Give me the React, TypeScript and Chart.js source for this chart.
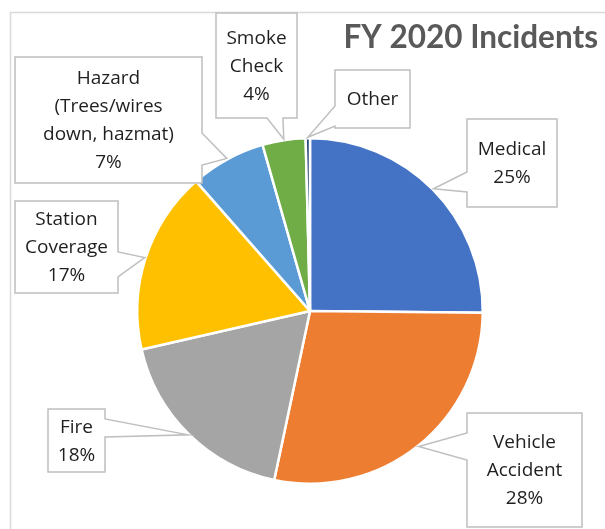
import React, { useEffect, useRef } from "react";
import { Chart, registerables } from "chart.js";

Chart.register(...registerables);

// ---- data ----
const categories = [
  "Medical",
  "Vehicle Accident",
  "Fire",
  "Station Coverage",
  "Hazard (Trees/wires down, hazmat)",
  "Smoke Check",
  "Other",
];
const labelLines = [
  ["Medical"],
  ["Vehicle", "Accident"],
  ["Fire"],
  ["Station", "Coverage"],
  ["Hazard", "(Trees/wires", "down, hazmat)"],
  ["Smoke", "Check"],
  ["Other"],
];
const values = [25, 28, 18, 17, 7, 4, 0.4];
const showPercent = [true, true, true, true, true, true, false];
const colors = ["#4472C4", "#ED7D31", "#A5A5A5", "#FFC000", "#5B9BD5", "#70AD47", "#264478"];
const titleText = "FY 2020 Incidents";

// ---- callout layout (box rect + wedge base on one side) ----
type Side = "left" | "right" | "top" | "bottom";
const callouts: { x: number; y: number; w: number; h: number; side: Side; a: number; b: number }[] = [
  { x: 467, y: 119, w: 90, h: 88, side: "left", a: 172, b: 192 },
  { x: 467, y: 413, w: 115, h: 114, side: "left", a: 433, b: 460 },
  { x: 48, y: 409, w: 57, h: 63, side: "right", a: 419, b: 437 },
  { x: 15, y: 201, w: 103, h: 92, side: "right", a: 252, b: 277 },
  { x: 15, y: 57, w: 187, h: 126, side: "right", a: 133, b: 165 },
  { x: 216, y: 13, w: 81, h: 105, side: "bottom", a: 267, b: 283 },
  { x: 335, y: 70, w: 75, h: 58, side: "left", a: 106, b: 126 },
];

const LABEL_FONT = "'Open Sans', Lato, sans-serif";
const TITLE_FONT = "Lato, 'Open Sans', sans-serif";

const calloutPlugin = {
  id: "callouts",
  beforeDraw(chart: any) {
    const ctx = chart.ctx;
    ctx.save();
    ctx.strokeStyle = "#d9d9d9";
    ctx.lineWidth = 1.5;
    ctx.strokeRect(10.5, 12.5, 700, 600);
    ctx.restore();
  },
  afterDraw(chart: any) {
    const ctx = chart.ctx;
    const meta = chart.getDatasetMeta(0);
    const total = values.reduce((s, v) => s + v, 0);
    ctx.save();
    // title
    ctx.font = `bold 31.5px ${TITLE_FONT}`;
    ctx.fillStyle = "#595959";
    ctx.textAlign = "right";
    ctx.textBaseline = "alphabetic";
    ctx.fillText(titleText, 598, 48);

    meta.data.forEach((arc: any, i: number) => {
      const c = callouts[i];
      if (!c) return;
      const p = arc.getProps(["x", "y", "startAngle", "endAngle", "outerRadius"], true);
      const mid = (p.startAngle + p.endAngle) / 2;
      const tx = p.x + Math.cos(mid) * (p.outerRadius + 1);
      const ty = p.y + Math.sin(mid) * (p.outerRadius + 1);
      const { x, y, w, h, side, a, b } = c;
      ctx.beginPath();
      ctx.moveTo(x, y);
      if (side === "top") {
        ctx.lineTo(a, y);
        ctx.lineTo(tx, ty);
        ctx.lineTo(b, y);
      }
      ctx.lineTo(x + w, y);
      if (side === "right") {
        ctx.lineTo(x + w, a);
        ctx.lineTo(tx, ty);
        ctx.lineTo(x + w, b);
      }
      ctx.lineTo(x + w, y + h);
      if (side === "bottom") {
        ctx.lineTo(b, y + h);
        ctx.lineTo(tx, ty);
        ctx.lineTo(a, y + h);
      }
      ctx.lineTo(x, y + h);
      if (side === "left") {
        ctx.lineTo(x, b);
        ctx.lineTo(tx, ty);
        ctx.lineTo(x, a);
      }
      ctx.closePath();
      ctx.fillStyle = "#ffffff";
      ctx.fill();
      ctx.strokeStyle = "#bfbfbf";
      ctx.lineWidth = 1.5;
      ctx.lineJoin = "miter";
      ctx.stroke();

      const lines = [...labelLines[i]];
      if (showPercent[i]) lines.push(Math.round((values[i] / total) * 100) + "%");
      ctx.font = `19px ${LABEL_FONT}`;
      ctx.fillStyle = "#1f1f1f";
      ctx.textAlign = "center";
      ctx.textBaseline = "middle";
      const lh = 28;
      const cx = x + w / 2;
      const cy = y + h / 2;
      lines.forEach((t, k) => {
        ctx.fillText(t, cx, cy + (k - (lines.length - 1) / 2) * lh + 1);
      });
    });
    ctx.restore();
  },
};

export default function App() {
  const ref = useRef<HTMLCanvasElement | null>(null);
  useEffect(() => {
    if (!ref.current) return;
    const chart = new Chart(ref.current, {
      type: "pie",
      data: {
        labels: categories,
        datasets: [
          {
            data: values,
            backgroundColor: colors,
            borderColor: "#ffffff",
            borderWidth: 2.5,
          },
        ],
      },
      options: {
        responsive: false,
        animation: false,
        layout: { padding: { left: 136, top: 137, right: 121, bottom: 44 } },
        plugins: {
          legend: { display: false },
          tooltip: { enabled: false },
          title: { display: false },
        },
      },
      plugins: [calloutPlugin],
    });
    return () => chart.destroy();
  }, []);
  return (
    <div style={{ position: "absolute", left: 0, top: 0, width: 605, height: 529, background: "#fff" }}>
      <canvas ref={ref} width={605} height={529} style={{ display: "block" }} />
    </div>
  );
}
